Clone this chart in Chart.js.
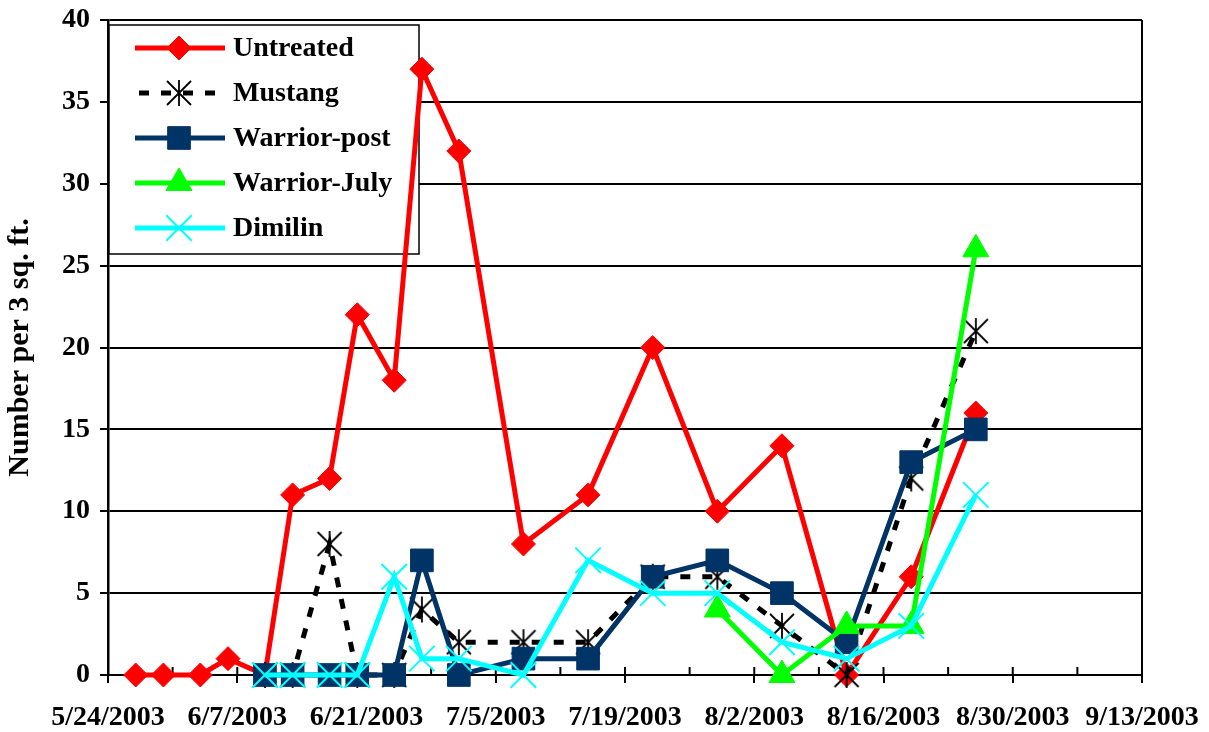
<!DOCTYPE html>
<html>
<head>
<meta charset="utf-8">
<title>Number per 3 sq. ft.</title>
<script src="https://cdn.jsdelivr.net/npm/chart.js@4.4.0/dist/chart.umd.min.js"></script>
<style>
  html, body { margin: 0; padding: 0; background: #fff; }
  #chart { display: block; }
</style>
</head>
<body>
<canvas id="chart" width="1209" height="732"></canvas>
<script>
/* ===============================
   Counts per 3 sq. ft. — line chart
   =============================== */

// sampling dates
const sampleDates = [
    "5/27/2003", "5/30/2003", "6/3/2003", "6/6/2003", "6/10/2003", "6/13/2003",
    "6/17/2003", "6/20/2003", "6/24/2003", "6/27/2003", "7/1/2003", "7/8/2003",
    "7/15/2003", "7/22/2003", "7/29/2003", "8/5/2003", "8/12/2003", "8/19/2003",
    "8/26/2003"
];

// one value per sample date (null = not sampled)
const untreated    = [0, 0, 0, 1, 0, 11, 12, 22, 18, 37, 32, 8, 11, 20, 10, 14, 0, 6, 16];
const mustang      = [null, null, null, null, 0, 0, 8, 0, 0, 4, 2, 2, 2, 6, 6, 3, 0, 12, 21];
const warriorPost  = [null, null, null, null, 0, 0, 0, 0, 0, 7, 0, 1, 1, 6, 7, 5, 2, 13, 15];
const warriorJuly  = [null, null, null, null, null, null, null, null, null, null, null, null, null, null, 4, 0, 3, 3, 26];
const dimilin      = [null, null, null, null, 0, 0, 0, 0, 6, 1, 1, 0, 7, 5, 5, 2, 1, 3, 11];

// axis ticks
const xTickLabels = [
    "5/24/2003", "6/7/2003", "6/21/2003", "7/5/2003", "7/19/2003",
    "8/2/2003", "8/16/2003", "8/30/2003", "9/13/2003"
];
const yTickValues = [0, 5, 10, 15, 20, 25, 30, 35, 40];

const yTitle = "Number per 3 sq. ft.";

const FONT = '"Liberation Serif", "Times New Roman", serif';
const DAY = 86400000;

function parseDate(s) {
    const [m, d, y] = s.split("/").map(Number);
    return Date.UTC(y, m - 1, d);
}

const origin = parseDate(xTickLabels[0]);

function dayOf(s) {
    return Math.round((parseDate(s) - origin) / DAY);
}

function points(values) {
    return sampleDates
        .map((s, i) => ({ x: dayOf(s), y: values[i] }))
        .filter(p => p.y !== null);
}

const xTickDays = xTickLabels.map(dayOf);

// Excel style asterisk marker (X with a vertical bar)
function asterisk(size) {
    const c = document.createElement("canvas");
    c.width = c.height = size;
    const g = c.getContext("2d");
    const m = size / 2;
    const r = size / 2 - 2;
    g.strokeStyle = "#000";
    g.lineWidth = 1.8;
    g.beginPath();
    g.moveTo(m - r, m - r); g.lineTo(m + r, m + r);
    g.moveTo(m + r, m - r); g.lineTo(m - r, m + r);
    g.moveTo(m, 1); g.lineTo(m, size - 1);
    g.stroke();
    return c;
}

// legend box drawn inside the plot, under the lines
const boxLegend = {
    id: "boxLegend",
    beforeDatasetsDraw(chart) {
        const { ctx, chartArea } = chart;
        const left = chartArea.left + 1;
        const top = chartArea.top + 5;
        const w = 310, h = 229;

        ctx.save();
        ctx.fillStyle = "#fff";
        ctx.fillRect(left, top, w, h);
        ctx.strokeStyle = "#000";
        ctx.lineWidth = 1.5;
        ctx.strokeRect(left, top, w, h);

        chart.data.datasets.forEach((ds, i) => {
            const y = top + 23 + i * 45;
            const x0 = left + 26, x1 = left + 116, xm = left + 70;

            ctx.strokeStyle = ds.borderColor;
            ctx.lineWidth = ds.borderWidth;
            ctx.setLineDash(ds.borderDash || []);
            ctx.lineDashOffset = ds.borderDash ? -4 : 0;
            ctx.beginPath();
            ctx.moveTo(x0, y);
            ctx.lineTo(x1, y);
            ctx.stroke();
            ctx.setLineDash([]);

            ctx.fillStyle = ds.pointBackgroundColor;
            ctx.strokeStyle = ds.pointBorderColor;
            ctx.lineWidth = ds.pointBorderWidth;
            Chart.helpers.drawPoint(ctx, {
                pointStyle: ds.pointStyle,
                radius: ds.pointRadius,
                rotation: 0,
                borderWidth: ds.pointBorderWidth
            }, xm, y);

            ctx.fillStyle = "#000";
            ctx.font = "bold 28px " + FONT;
            ctx.textBaseline = "middle";
            ctx.textAlign = "left";
            ctx.fillText(ds.label, left + 124, y + 1);
        });
        ctx.restore();
    }
};

// right frame + small tick marks inside the plot
const plotFrame = {
    id: "plotFrame",
    beforeDatasetsDraw(chart) {
        const { ctx, chartArea, scales } = chart;
        ctx.save();
        ctx.strokeStyle = "#000";
        ctx.lineWidth = 2;
        ctx.beginPath();
        ctx.moveTo(chartArea.right, chartArea.top);
        ctx.lineTo(chartArea.right, chartArea.bottom);
        scales.x.ticks.forEach(t => {
            const px = scales.x.getPixelForValue(t.value);
            ctx.moveTo(px, chartArea.bottom);
            ctx.lineTo(px, chartArea.bottom - 8);
        });
        ctx.stroke();
        ctx.restore();
    }
};

document.addEventListener("DOMContentLoaded", () => {

    const ctx = document.getElementById("chart");

    if (!ctx) return;

    Chart.defaults.color = "#000";
    Chart.defaults.font.family = FONT;

    new Chart(ctx, {
        type: "line",
        data: {
            datasets: [
                {
                    label: "Untreated",
                    data: points(untreated),
                    borderColor: "#ff0000",
                    borderWidth: 5,
                    pointStyle: "rectRot",
                    pointRadius: 12,
                    pointBackgroundColor: "#ff0000",
                    pointBorderColor: "#ff0000",
                    pointBorderWidth: 1,
                    order: 5
                },
                {
                    label: "Mustang",
                    data: points(mustang),
                    borderColor: "#000000",
                    borderWidth: 5,
                    borderDash: [10, 12],
                    pointStyle: asterisk(28),
                    pointRadius: 14,
                    pointBackgroundColor: "#000000",
                    pointBorderColor: "#000000",
                    pointBorderWidth: 1,
                    order: 4
                },
                {
                    label: "Warrior-post",
                    data: points(warriorPost),
                    borderColor: "#003366",
                    borderWidth: 5,
                    pointStyle: "rect",
                    pointRadius: 16,
                    pointBackgroundColor: "#003366",
                    pointBorderColor: "#003366",
                    pointBorderWidth: 1,
                    order: 3
                },
                {
                    label: "Warrior-July",
                    data: points(warriorJuly),
                    borderColor: "#00ff00",
                    borderWidth: 5,
                    pointStyle: "triangle",
                    pointRadius: 15,
                    pointBackgroundColor: "#00ff00",
                    pointBorderColor: "#00ff00",
                    pointBorderWidth: 1,
                    order: 2
                },
                {
                    label: "Dimilin",
                    data: points(dimilin),
                    borderColor: "#00ffff",
                    borderWidth: 5,
                    pointStyle: "crossRot",
                    pointRadius: 18,
                    pointBackgroundColor: "#00ffff",
                    pointBorderColor: "#00ffff",
                    pointBorderWidth: 2,
                    order: 1
                }
            ]
        },

        options: {
            responsive: false,
            animation: false,
            devicePixelRatio: 1,
            clip: false,
            tension: 0,

            layout: {
                padding: { left: 0, right: 67, top: 20, bottom: 0 }
            },

            plugins: {
                legend: { display: false },
                tooltip: { enabled: false }
            },

            scales: {
                x: {
                    type: "linear",
                    min: xTickDays[0],
                    max: xTickDays[xTickDays.length - 1],
                    afterFit(scale) {
                        scale.height = 57;
                        scale.paddingLeft = 0;
                        scale.paddingRight = 0;
                    },
                    ticks: {
                        stepSize: (xTickDays[1] - xTickDays[0]) / 2,
                        autoSkip: false,
                        maxRotation: 0,
                        padding: 18,
                        font: { size: 28, weight: "bold" },
                        callback(value) {
                            const i = xTickDays.indexOf(value);
                            return i >= 0 ? xTickLabels[i] : "";
                        }
                    },
                    grid: {
                        drawOnChartArea: false,
                        tickLength: 8,
                        lineWidth: 2,
                        color: c => (c.tick && xTickDays.includes(c.tick.value)) ? "#000" : "rgba(0,0,0,0)"
                    },
                    border: { display: true, color: "#000", width: 2 }
                },
                y: {
                    min: yTickValues[0],
                    max: yTickValues[yTickValues.length - 1],
                    afterFit(scale) {
                        scale.width = 108;
                        scale.paddingTop = 0;
                        scale.paddingBottom = 0;
                    },
                    ticks: {
                        stepSize: yTickValues[1] - yTickValues[0],
                        padding: 10,
                        font: { size: 28, weight: "bold" }
                    },
                    grid: {
                        color: "#000",
                        lineWidth: 2,
                        tickLength: 8
                    },
                    border: { display: true, color: "#000", width: 2.5 },
                    title: {
                        display: true,
                        text: yTitle,
                        font: { size: 30, weight: "bold" },
                        padding: { top: 2, bottom: 0 }
                    }
                }
            }
        },

        plugins: [plotFrame, boxLegend]
    });

});
</script>
</body>
</html>
